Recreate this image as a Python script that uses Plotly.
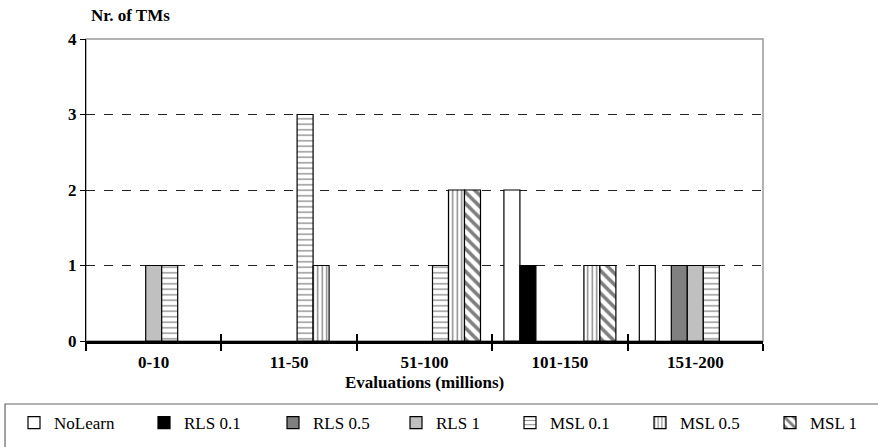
import plotly.graph_objects as go

# Evaluation ranges (millions) on the category axis
categories = ["0-10", "11-50", "51-100", "101-150", "151-200"]

# Number of TMs per evaluation range, one list per method
nolearn = [0, 0, 0, 2, 1]
rls_01 = [0, 0, 0, 1, 0]
rls_05 = [0, 0, 0, 0, 1]
rls_1 = [1, 0, 0, 0, 1]
msl_01 = [1, 3, 1, 0, 1]
msl_05 = [0, 1, 2, 1, 0]
msl_1 = [0, 0, 2, 1, 0]

y_ticks = [0, 1, 2, 3, 4]

SERIF = "Liberation Serif"
BOLD = dict(family=SERIF, size=17, color="black", weight="bold")
BOLD_TITLE = dict(family=SERIF, size=17, color="black", weight="bold")

series = [
    ("NoLearn", nolearn, dict(color="white")),
    ("RLS 0.1", rls_01, dict(color="black")),
    ("RLS 0.5", rls_05, dict(color="#808080")),
    ("RLS 1", rls_1, dict(color="#c0c0c0")),
    ("MSL 0.1", msl_01, dict(color="white",
                             pattern=dict(shape="-", fgcolor="black", bgcolor="white",
                                          size=5.5, solidity=0.22))),
    ("MSL 0.5", msl_05, dict(color="white",
                             pattern=dict(shape="|", fgcolor="black", bgcolor="white",
                                          size=4.5, solidity=0.3))),
    ("MSL 1", msl_1, dict(color="white",
                          pattern=dict(shape="\\", fgcolor="black", bgcolor="white",
                                       size=8, solidity=0.45))),
]

W, H = 878, 447
# legend entry anchors (pixels from the left edge of the page)
legend_px = [14, 144, 273, 396, 510, 640, 770]
legend_py = 423

fig = go.Figure()
for i, (name, vals, marker) in enumerate(series):
    marker = dict(marker)
    marker["line"] = dict(color="black", width=1.2)
    # empty cells are left out rather than drawn as flat bars
    shown = [v if v else None for v in vals]
    fig.add_trace(go.Bar(name=name, x=categories, y=shown, marker=marker,
                         legend="legend" if i == 0 else f"legend{i + 1}",
                         hoverinfo="x+y+name"))

# invisible helper on an overlaid axis so the category ticks cross the axis line
fig.add_trace(go.Scatter(x=categories, y=[0] * len(categories), xaxis="x2",
                         mode="markers", marker=dict(opacity=0),
                         showlegend=False, hoverinfo="skip"))

legends = {}
for i, px in enumerate(legend_px):
    key = "legend" if i == 0 else f"legend{i + 1}"
    legends[key] = dict(
        orientation="h", xref="container", yref="container",
        x=px / W, xanchor="left", y=1 - legend_py / H, yanchor="middle",
        font=dict(family=SERIF, size=17, color="black"),
        bgcolor="rgba(0,0,0,0)", borderwidth=0,
    )

fig.update_layout(
    width=W, height=H,
    margin=dict(l=86, r=115, t=39, b=106, autoexpand=False),
    paper_bgcolor="white", plot_bgcolor="white",
    barmode="group", bargap=0.173, bargroupgap=0,
    font=dict(family=SERIF, color="black", size=16),
    xaxis=dict(
        type="category", categoryarray=categories, range=[-0.5, 4.5],
        tickson="boundaries", ticks="outside", ticklen=7, tickwidth=2, tickcolor="black",
        showline=True, linecolor="black", linewidth=2.5,
        showgrid=False, zeroline=False, ticklabelstandoff=4,
        tickfont=BOLD,
    ),
    xaxis2=dict(
        type="category", categoryarray=categories, range=[-0.5, 4.5],
        overlaying="x", anchor="y", side="bottom",
        tickson="boundaries", ticks="inside", ticklen=7, tickwidth=2, tickcolor="black",
        showticklabels=False, showline=False, showgrid=False, zeroline=False,
    ),
    yaxis=dict(
        range=[0, 4], tickvals=y_ticks, ticks="outside", ticklen=5, tickwidth=1,
        tickcolor="black", showline=True, linecolor="black", linewidth=1,
        showgrid=True, gridcolor="#222", griddash="dash", gridwidth=1,
        zeroline=False,
        tickfont=BOLD,
    ),
    shapes=[
        # gray plot-area border (top/right)
        dict(type="rect", xref="paper", yref="paper", x0=0, x1=1, y0=0, y1=1,
             line=dict(color="#999", width=1.5), layer="below"),
        # legend frame
        dict(type="rect", xref="paper", yref="paper", x0=-0.1196, x1=1.25,
             y0=-0.2086, y1=-0.6, line=dict(color="#666", width=1.2)),
    ],
    annotations=[
        dict(text="Nr. of TMs", xref="paper", yref="paper", x=0.065, y=1.079,
             xanchor="center", yanchor="middle", showarrow=False, font=BOLD_TITLE),
        dict(text="Evaluations (millions)", xref="paper", yref="paper",
             x=0.5, y=-0.136, xanchor="center", yanchor="middle", showarrow=False,
             font=BOLD_TITLE),
    ],
    **legends,
)

fig.write_html("out.html")
